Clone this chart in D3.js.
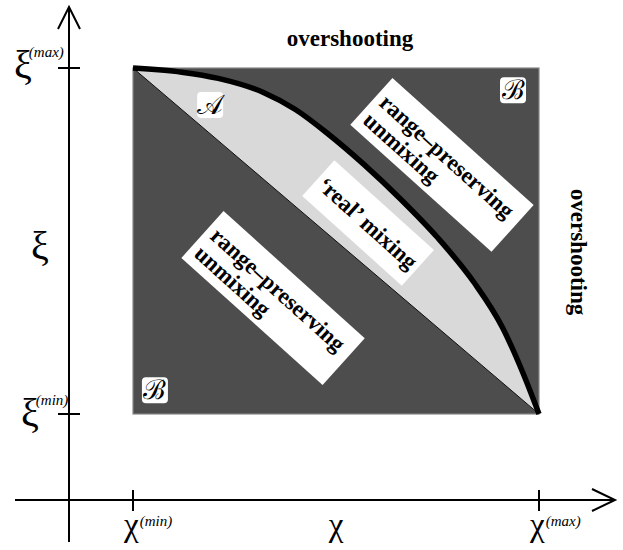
<!DOCTYPE html>
<html>
<head>
<meta charset="utf-8">
<script src="https://cdn.jsdelivr.net/npm/d3@7/dist/d3.min.js"></script>
<style>
  body { margin: 0; background: #fff; }
  svg { display: block; }
  text { font-family: "Liberation Serif", "Times New Roman", serif; }
</style>
</head>
<body>
<svg id="chart" width="623" height="550"></svg>
<script>
// ticks on the two axes (normalised: 0 = min, 1 = max)
const tickValues = [0, 1];
const tickSupers = ["(min)", "(max)"];

// the thick boundary curve
const curveChi = [0, 0.12, 0.21, 0.32, 0.40, 0.48, 0.57, 0.66, 0.75, 0.84, 0.91, 0.96, 1];
const curveXi  = [1, 0.988, 0.97, 0.93, 0.88, 0.81, 0.72, 0.62, 0.51, 0.38, 0.25, 0.12, 0];

// region texts
const regionSymbols = ["\u{1D49C}", "\u212C", "\u212C"];
const boxTexts = [
  ["range\u2013preserving", "unmixing"],
  ["range\u2013preserving", "unmixing"],
  ["\u2018real\u2019 mixing"]
];
const sideText = "overshooting";

const svg = d3.select('#chart');

// scales
const x = d3.scaleLinear().domain([0, 1]).range([133, 539]);
const y = d3.scaleLinear().domain([0, 1]).range([414, 68]);

let pts = curveChi.map((c, i) => ({ chi: c, xi: curveXi[i] }));

// dark square
svg.append('rect')
  .attr('x', x(0))
  .attr('y', y(1))
  .attr('width', x(1) - x(0))
  .attr('height', y(0) - y(1))
  .attr('fill', '#4d4d4d')
  .attr('stroke', '#888')
  .attr('stroke-width', 1.2);

// light region between diagonal and curve
let area = d3.area()
  .x(d => x(d.chi))
  .y0(d => y(1 - d.chi))
  .y1(d => y(d.xi))
  .curve(d3.curveMonotoneX);

svg.append('path')
  .datum(pts)
  .attr('d', area)
  .attr('fill', '#d9d9d9');

// diagonal
svg.append('line')
  .attr('x1', x(0)).attr('y1', y(1))
  .attr('x2', x(1)).attr('y2', y(0))
  .attr('stroke', '#111')
  .attr('stroke-width', 1);

// thick curve
let line = d3.line()
  .x(d => x(d.chi))
  .y(d => y(d.xi))
  .curve(d3.curveMonotoneX);

svg.append('path')
  .datum(pts)
  .attr('d', line)
  .attr('fill', 'none')
  .attr('stroke', '#000')
  .attr('stroke-width', 5.5);

// axes with open arrow heads
let axes = svg.append('g')
  .attr('stroke', '#000')
  .attr('stroke-width', 2)
  .attr('fill', 'none');

let ax0 = 69, ay0 = 500;
axes.append('line').attr('x1', 15).attr('y1', ay0).attr('x2', 615).attr('y2', ay0);
axes.append('polyline').attr('points', `592,489 615,${ay0} 592,511`);
axes.append('line').attr('x1', ax0).attr('y1', 542).attr('x2', ax0).attr('y2', 7);
axes.append('polyline').attr('points', `58,29 ${ax0},7 80,29`);

tickValues.forEach(v => {
  axes.append('line')
    .attr('x1', x(v)).attr('x2', x(v))
    .attr('y1', ay0 - 10).attr('y2', ay0 + 11);
  axes.append('line')
    .attr('x1', ax0 - 11).attr('x2', ax0 + 11)
    .attr('y1', y(v)).attr('y2', y(v));
});

// tick labels
tickValues.forEach((v, i) => {
  let t = svg.append('text')
    .attr('x', x(v) - 9)
    .attr('y', 536)
    .attr('font-size', 33);
  t.append('tspan').text('\u03C7');
  t.append('tspan')
    .attr('font-size', 15)
    .attr('font-style', 'italic')
    .attr('dy', -10)
    .attr('dx', 1)
    .text(tickSupers[i]);

  let s = svg.append('text')
    .attr('x', v === 0 ? 21 : 14)
    .attr('y', v === 0 ? y(v) + 12 : y(v) + 10)
    .attr('font-size', 40);
  s.append('tspan').text('\u03BE');
  s.append('tspan')
    .attr('font-size', 15)
    .attr('font-style', 'italic')
    .attr('dy', -21)
    .attr('dx', -3)
    .text(tickSupers[i]);
});

// axis names
svg.append('text')
  .attr('x', x(0.5))
  .attr('y', 536)
  .attr('text-anchor', 'middle')
  .attr('font-size', 33)
  .text('\u03C7');

svg.append('text')
  .attr('x', 40)
  .attr('y', 259)
  .attr('text-anchor', 'middle')
  .attr('font-size', 40)
  .text('\u03BE');

// overshooting labels
svg.append('text')
  .attr('x', 350)
  .attr('y', 46)
  .attr('text-anchor', 'middle')
  .attr('font-size', 23)
  .attr('font-weight', 'bold')
  .text(sideText);

svg.append('text')
  .attr('transform', `translate(571,252) rotate(90)`)
  .attr('text-anchor', 'middle')
  .attr('font-size', 23)
  .attr('font-weight', 'bold')
  .text(sideText);

// symbol boxes A / B
let symPos = [[0.19, 0.893], [0.936, 0.936], [0.054, 0.069]];
regionSymbols.forEach((s, i) => {
  let g = svg.append('g')
    .attr('transform', `translate(${x(symPos[i][0])},${y(symPos[i][1])})`);
  g.append('rect')
    .attr('x', -13).attr('y', -13)
    .attr('width', 26).attr('height', 26)
    .attr('rx', 4)
    .attr('fill', '#fff');
  g.append('text')
    .attr('y', 9)
    .attr('text-anchor', 'middle')
    .attr('font-size', 27)
    .text(s);
});

// rotated white text boxes
let boxPos = [[0.345, 0.335], [0.761, 0.72], [0.579, 0.552]];
let boxSize = [[190, 63], [190, 63], [134, 48]];
boxTexts.forEach((lines, i) => {
  let w = boxSize[i][0], h = boxSize[i][1];
  let g = svg.append('g')
    .attr('transform', `translate(${x(boxPos[i][0])},${y(boxPos[i][1])}) rotate(42)`);
  g.append('rect')
    .attr('x', -w / 2).attr('y', -h / 2)
    .attr('width', w).attr('height', h)
    .attr('fill', '#fff');
  if (lines.length === 1) {
    g.append('text')
      .attr('y', 8)
      .attr('text-anchor', 'middle')
      .attr('font-size', 23)
      .attr('font-weight', 'bold')
      .text(lines[0]);
  } else {
    lines.forEach((l, j) => {
      g.append('text')
        .attr('x', -w / 2 + 7)
        .attr('y', -2 + j * 24)
        .attr('font-size', 23)
        .attr('font-weight', 'bold')
        .text(l);
    });
  }
});
</script>
</body>
</html>
